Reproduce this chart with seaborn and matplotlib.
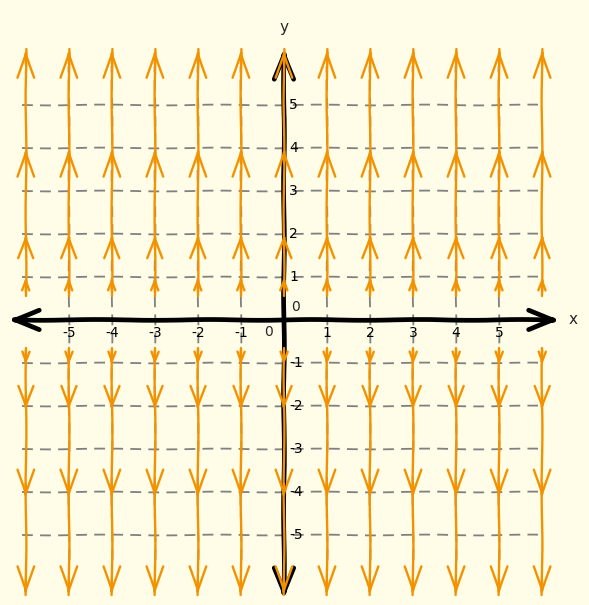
import matplotlib
matplotlib.use('Agg')
import matplotlib.pyplot as plt
import numpy as np
import pandas as pd
import seaborn as sns

# columns of the vertical field lines (dy/dt = y, dx/dt = 0)
col_x = [-6, -5, -4, -3, -2, -1, 0, 1, 2, 3, 4, 5, 6]
upper_span = [0.55, 6.3]
lower_span = [-0.65, -6.4]
# arrowhead tips and their sizes (small / medium / large / large)
upper_tips = [1.0, 2.0, 4.0, 6.3]
lower_tips = [-1.05, -2.1, -4.15, -6.4]
head_sizes = ['small', 'medium', 'large', 'large']

grid_vals = [-5, -4, -3, -2, -1, 1, 2, 3, 4, 5]
xtick_labels = ['-5', '-4', '-3', '-2', '-1', '1', '2', '3', '4', '5']
ytick_labels = ['-5', '-4', '-3', '-2', '-1', '1', '2', '3', '4', '5']

bg = '#fffde8'
orange = '#f29200'

sns.set_theme(style='white', rc={'axes.facecolor': bg, 'figure.facecolor': bg})
plt.xkcd(scale=0.4, length=120, randomness=2)
plt.rcParams['path.effects'] = []
plt.rcParams['font.family'] = ['DejaVu Sans']

fig = plt.figure(figsize=(5.89, 6.05), dpi=100)
ax = fig.add_axes([0, 0, 1, 1])
ax.set_xlim(-6.6, 7.09)
ax.set_ylim(-6.63, 7.44)
ax.axis('off')

# dashed grid
ax.hlines(grid_vals, -6.1, 5.9, colors='#808080', linestyles=(0, (6, 4)), lw=1.3, zorder=1)
ax.vlines(grid_vals, -6.0, 5.9, colors='#808080', linestyles=(0, (6, 4)), lw=1.3, zorder=1)

# black axes with arrows
axis_style = '<->,head_length=1.8,head_width=0.7'
ax.annotate('', xy=(6.42, 0), xytext=(-6.42, 0),
            arrowprops=dict(arrowstyle=axis_style, mutation_scale=10, lw=3.4,
                            color='black', shrinkA=0, shrinkB=0), zorder=3)
ax.annotate('', xy=(0, 6.33), xytext=(0, -6.5),
            arrowprops=dict(arrowstyle=axis_style, mutation_scale=10, lw=3.4,
                            color='black', shrinkA=0, shrinkB=0), zorder=3)

# field lines through seaborn
rows = []
for i, x in enumerate(col_x):
    for half, span in (('u', upper_span), ('l', lower_span)):
        for y in span:
            rows.append({'x': x, 'y': y, 'line': f'{i}{half}'})
df = pd.DataFrame(rows)
sns.lineplot(data=df, x='x', y='y', units='line', estimator=None, sort=False,
             color=orange, lw=1.7, ax=ax, legend=False, zorder=4)

head_style = {'small': (0.72, 0.27), 'medium': (1.5, 0.55), 'large': (1.8, 0.6)}
for x in col_x:
    for tips, sgn in ((upper_tips, 1), (lower_tips, -1)):
        for tip, size in zip(tips, head_sizes):
            hl, hw = head_style[size]
            ax.annotate('', xy=(x, tip), xytext=(x, tip - sgn * 0.35),
                        arrowprops=dict(arrowstyle=f'->,head_length={hl},head_width={hw}',
                                        mutation_scale=10, lw=1.7, color=orange,
                                        shrinkA=0, shrinkB=0), zorder=4)

# tick labels
for v, lab in zip(grid_vals, xtick_labels):
    ax.text(v, -0.3, lab, ha='center', va='center', fontsize=10, color='black')
for v, lab in zip(grid_vals, ytick_labels):
    ax.text(0.12, v, lab, ha='left', va='center', fontsize=10, color='black')
ax.text(-0.35, -0.28, '0', ha='center', va='center', fontsize=10)
ax.text(0.26, 0.3, '0', ha='center', va='center', fontsize=10)
ax.text(6.72, 0.02, 'x', ha='center', va='center', fontsize=11)
ax.text(0.0, 6.8, 'y', ha='center', va='center', fontsize=11)

fig.savefig('out.png', dpi=100, facecolor=bg)
